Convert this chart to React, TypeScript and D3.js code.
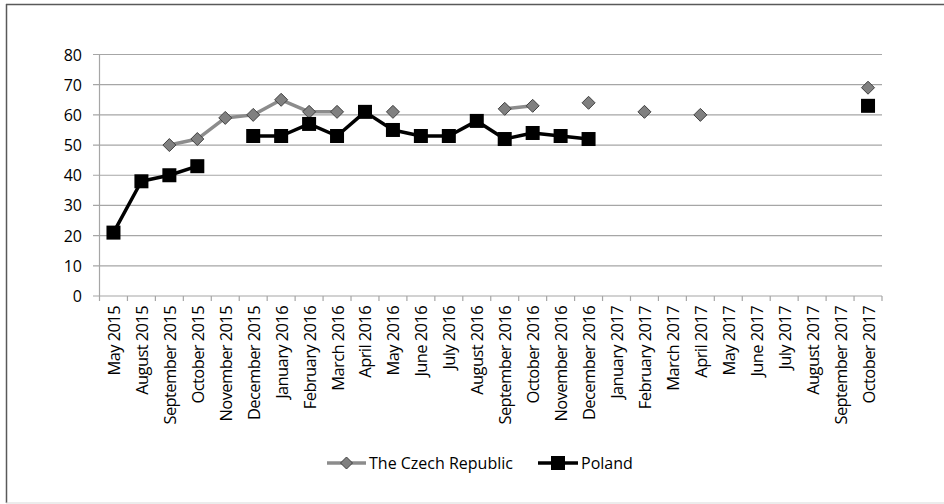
import { line, scaleBand, scaleLinear } from "d3";

const months = [
  "May 2015", "August 2015", "September 2015", "October 2015", "November 2015",
  "December 2015", "January 2016", "February 2016", "March 2016", "April 2016",
  "May 2016", "June 2016", "July 2016", "August 2016", "September 2016",
  "October 2016", "November 2016", "December 2016", "January 2017", "February 2017",
  "March 2017", "April 2017", "May 2017", "June 2017", "July 2017",
  "August 2017", "September 2017", "October 2017",
];

const czech: (number | null)[] = [
  null, null, 50, 52, 59, 60, 65, 61, 61, null,
  61, null, null, null, 62, 63, null, 64, null, 61,
  null, 60, null, null, null, null, null, 69,
];

const poland: (number | null)[] = [
  21, 38, 40, 43, null, 53, 53, 57, 53, 61,
  55, 53, 53, 58, 52, 54, 53, 52, null, null,
  null, null, null, null, null, null, null, 63,
];

const yTicks = [0, 10, 20, 30, 40, 50, 60, 70, 80];

const W = 944;
const H = 504;
const FONT = "'Open Sans', 'DejaVu Sans', sans-serif";

export default function App() {
  const x = scaleBand<string>().domain(months).range([99.5, 882]);
  const y = scaleLinear().domain([0, 80]).range([296, 54.5]);
  const cx = (i: number) => (x(months[i]) ?? 0) + x.bandwidth() / 2;

  const path = line<number | null>()
    .defined((d) => d != null)
    .x((_, i) => cx(i))
    .y((d) => y(d as number));

  const diamond = (px: number, py: number, r: number) =>
    `M${px},${py - r}L${px + r},${py}L${px},${py + r}L${px - r},${py}Z`;

  return (
    <svg
      width={W}
      height={H}
      style={{ position: "fixed", left: 0, top: 0, display: "block", background: "#fff" }}
      fontFamily={FONT}
    >
      {/* frame */}
      <line x1={6.5} x2={6.5} y1={4} y2={503} stroke="#595959" strokeWidth={1.5} />
      <line x1={6} x2={W} y1={4.5} y2={4.5} stroke="#595959" strokeWidth={1.5} />
      <line x1={6} x2={W} y1={503} y2={503} stroke="#d9d9d9" strokeWidth={1} />

      {/* grid + y axis */}
      {yTicks.map((t) => (
        <g key={t}>
          <line x1={93} x2={882} y1={y(t)} y2={y(t)} stroke="#a6a6a6" strokeWidth={1.2} />
          <text x={82} y={y(t)} textAnchor="end" dominantBaseline="central" fontSize={16} fill="#000">
            {t}
          </text>
        </g>
      ))}
      <line x1={99.5} x2={99.5} y1={y(80)} y2={y(0)} stroke="#a6a6a6" strokeWidth={1.2} />

      {/* x axis ticks + labels */}
      {months.map((m) => (
        <line
          key={"t" + m}
          x1={x(m)}
          x2={x(m)}
          y1={y(0)}
          y2={y(0) + 5}
          stroke="#a6a6a6"
          strokeWidth={1.2}
        />
      ))}
      <line x1={882} x2={882} y1={y(0)} y2={y(0) + 5} stroke="#a6a6a6" strokeWidth={1.2} />
      {months.map((m, i) => (
        <text
          key={m}
          transform={`translate(${cx(i)},${y(0) + 10}) rotate(-90)`}
          textAnchor="end"
          dominantBaseline="central"
          fontSize={16.5}
          letterSpacing={-0.6}
          fill="#000"
        >
          {m}
        </text>
      ))}

      {/* Czech */}
      <path d={path(czech) ?? ""} fill="none" stroke="#8c8c8c" strokeWidth={3.5} strokeLinejoin="round" />
      {czech.map((v, i) =>
        v == null ? null : (
          <path key={"c" + i} d={diamond(cx(i), y(v), 6.5)} fill="#808080" stroke="#404040" strokeWidth={1} />
        )
      )}

      {/* Poland */}
      <path d={path(poland) ?? ""} fill="none" stroke="#000" strokeWidth={3.5} strokeLinejoin="round" />
      {poland.map((v, i) =>
        v == null ? null : (
          <rect key={"p" + i} x={cx(i) - 7} y={y(v) - 7} width={14} height={14} fill="#000" />
        )
      )}

      {/* legend */}
      <line x1={327} x2={366} y1={463} y2={463} stroke="#8c8c8c" strokeWidth={3.5} />
      <path d={diamond(346.5, 463, 6)} fill="#808080" stroke="#404040" strokeWidth={1} />
      <text x={369} y={463} dominantBaseline="central" fontSize={16} fill="#000">
        The Czech Republic
      </text>
      <line x1={538} x2={578} y1={463} y2={463} stroke="#000" strokeWidth={3.5} />
      <rect x={551} y={456} width={14} height={14} fill="#000" />
      <text x={581} y={463} dominantBaseline="central" fontSize={16} fill="#000">
        Poland
      </text>
    </svg>
  );
}
